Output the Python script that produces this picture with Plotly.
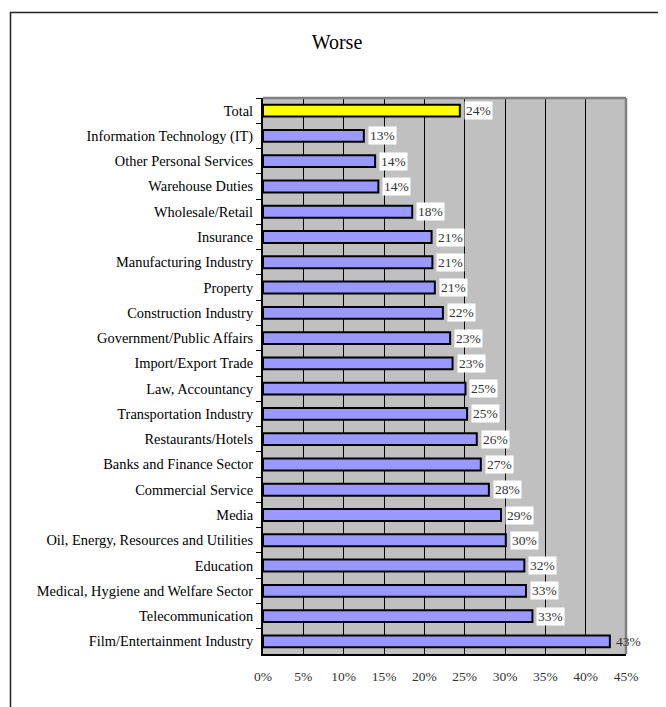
import plotly.graph_objects as go

categories = [
    "Total",
    "Information Technology (IT)",
    "Other Personal Services",
    "Warehouse Duties",
    "Wholesale/Retail",
    "Insurance",
    "Manufacturing Industry",
    "Property",
    "Construction Industry",
    "Government/Public Affairs",
    "Import/Export Trade",
    "Law, Accountancy",
    "Transportation Industry",
    "Restaurants/Hotels",
    "Banks and Finance Sector",
    "Commercial Service",
    "Media",
    "Oil, Energy, Resources and Utilities",
    "Education",
    "Medical, Hygiene and Welfare Sector",
    "Telecommunication",
    "Film/Entertainment Industry",
]
values = [24.4, 12.5, 13.9, 14.3, 18.5, 20.9, 21.0, 21.3, 22.3, 23.2, 23.5,
          25.1, 25.3, 26.5, 27.0, 28.0, 29.5, 30.1, 32.4, 32.6, 33.4, 43.0]
labels = ["24%", "13%", "14%", "14%", "18%", "21%", "21%", "21%", "22%", "23%", "23%",
          "25%", "25%", "26%", "27%", "28%", "29%", "30%", "32%", "33%", "33%", "43%"]
x_ticks = [0, 5, 10, 15, 20, 25, 30, 35, 40, 45]
title_text = "Worse"

FONT = "Liberation Serif, Times New Roman, serif"
colors = ["#FFFF00" if c == "Total" else "#9999FF" for c in categories]

# page body has an 8px default margin; compensate
OFF = 8
W, H = 666 - OFF, 707 - OFF
L = 263 - OFF
T = 97.5 - OFF
R = W - (626 - OFF)
B = H - (654 - OFF)
pw, ph = W - L - R, H - T - B

fig = go.Figure()
fig.add_trace(go.Bar(
    x=values, y=categories, orientation="h",
    marker=dict(color=colors, line=dict(color="black", width=2)),
    width=0.47, hoverinfo="x+y",
))

for cat, v, lab in zip(categories, values, labels):
    fig.add_annotation(
        x=v, y=cat, xref="x", yref="y", text=lab, showarrow=False,
        xanchor="left", yanchor="middle", xshift=4,
        bgcolor="white" if v < 40 else "rgba(0,0,0,0)", borderpad=1,
        font=dict(family=FONT, size=13.5, color="#333333"),
    )

# gray top and right border of plot area
fig.add_shape(type="line", xref="paper", yref="paper", x0=0, x1=1, y0=1, y1=1,
              line=dict(color="#808080", width=2.5))
fig.add_shape(type="line", xref="paper", yref="paper", x0=1, x1=1, y0=0, y1=1,
              line=dict(color="#808080", width=2.5))

def px(x):
    return (x - OFF - L) / pw
def py(y):
    return (H - B - (y - OFF)) / ph
fig.add_shape(type="path", xref="paper", yref="paper",
              path=f"M {px(10.5)} {py(730)} L {px(10.5)} {py(12)} L {px(661.5)} {py(12)} L {px(661.5)} {py(730)}",
              line=dict(color="#222222", width=1.5))

fig.update_layout(
    width=W, height=H,
    margin=dict(l=L, r=R, t=T, b=B, pad=0),
    paper_bgcolor="white",
    plot_bgcolor="#C0C0C0",
    showlegend=False,
    title=dict(text=title_text, x=(337 - OFF) / W, xanchor="center",
               y=1 - (42 - OFF) / H, yanchor="middle",
               font=dict(family=FONT, size=20, color="black")),
    xaxis=dict(
        range=[0, 45], tickvals=x_ticks, ticktext=[f"{t}%" for t in x_ticks],
        showgrid=True, gridcolor="black", gridwidth=1,
        showline=True, linecolor="black", linewidth=2,
        ticks="", zeroline=False, ticklabelstandoff=9,
        tickfont=dict(family=FONT, size=13.5, color="#333333"),
        fixedrange=True,
    ),
    yaxis=dict(
        autorange="reversed",
        showline=True, linecolor="black", linewidth=2,
        ticks="outside", ticklen=5, tickcolor="black", tickwidth=1,
        tickson="boundaries", showgrid=False, ticklabelstandoff=5,
        tickfont=dict(family=FONT, size=14.4, color="black"),
        fixedrange=True,
    ),
)

fig.write_html("out.html")
